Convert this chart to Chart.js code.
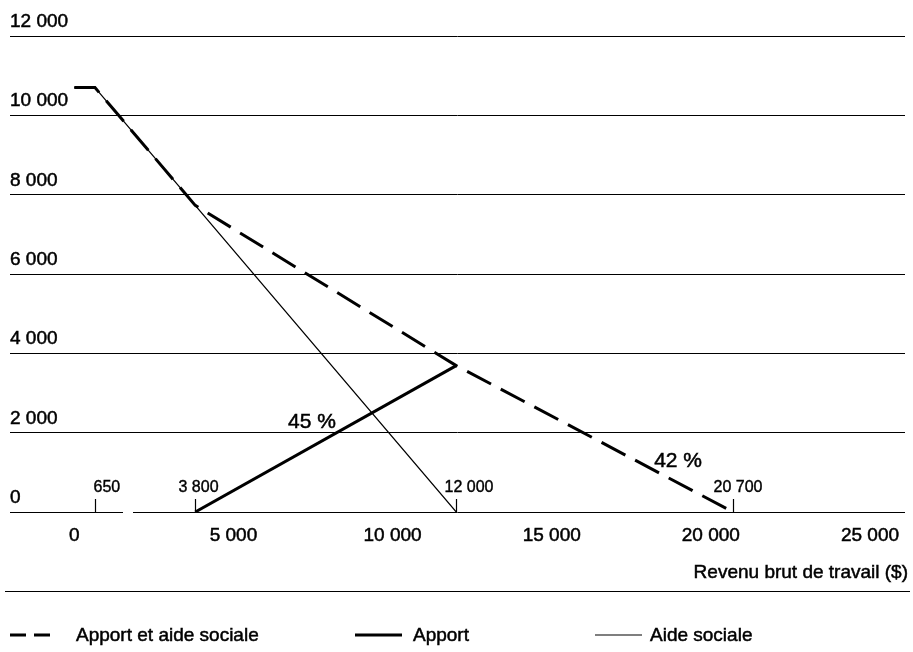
<!DOCTYPE html>
<html>
<head>
<meta charset="utf-8">
<script src="https://cdn.jsdelivr.net/npm/chart.js@4/dist/chart.umd.min.js"></script>
<style>
  html, body { margin: 0; padding: 0; background: #fff; }
  #wrap { width: 913px; height: 652px; }
</style>
</head>
<body>
<div id="wrap"><canvas id="chart" width="913" height="652"></canvas></div>
<script>
// revenu brut de travail ($) aux points de cassure
const revenuTotal = [0, 650, 3800, 12000, 20700];
const apportEtAide = [10700, 10700, 7730, 3690, 0];

const revenuApport = [3800, 12000];
const apport = [0, 3690];

const revenuAide = [0, 650, 12000];
const aideSociale = [10700, 10700, 0];

const xTicks = [0, 5000, 10000, 15000, 20000, 25000];
const yTicks = [0, 2000, 4000, 6000, 8000, 10000, 12000];

// seuils marqués sur l'axe
const seuils = [650, 3800, 12000, 20700];
const seuilLabels = ['650', '3 800', '12 000', '20 700'];

const taux = ['45 %', '42 %'];

const FONT = "'Liberation Sans', Arial, sans-serif";

function fmt(v) {
  return String(v).replace(/\B(?=(\d{3})+(?!\d))/g, ' ');
}

function pts(xs, ys) {
  return xs.map((x, i) => ({ x, y: ys[i] }));
}

// texte un peu plus gras, comme l'original imprimé
function txt(ctx, s, x, y) {
  ctx.fillText(s, x, y);
  ctx.strokeText(s, x, y);
}

const decor = {
  id: 'decor',
  afterDraw(chart) {
    const ctx = chart.ctx;
    const xs = chart.scales.x;
    const ys = chart.scales.y;
    const y0 = ys.getPixelForValue(0);
    ctx.save();

    // petite coupure dans l'axe
    ctx.fillStyle = '#fff';
    ctx.fillRect(123, y0 - 3, 10, 6);

    ctx.fillStyle = '#000';
    ctx.strokeStyle = '#000';
    ctx.lineWidth = 0.5;

    // étiquettes de l'axe vertical, au-dessus des lignes
    ctx.font = '19px ' + FONT;
    ctx.textAlign = 'left';
    ctx.textBaseline = 'alphabetic';
    yTicks.forEach(v => {
      txt(ctx, fmt(v), 10, ys.getPixelForValue(v) - 9);
    });

    // repères des seuils
    const offs = [-2, -17, -12, -20];
    ctx.font = '16px ' + FONT;
    seuils.forEach((v, i) => {
      const px = Math.round(xs.getPixelForValue(v)) + 0.5;
      ctx.lineWidth = 1.2;
      ctx.beginPath();
      ctx.moveTo(px, y0 - 13);
      ctx.lineTo(px, y0);
      ctx.stroke();
      ctx.lineWidth = 0.4;
      txt(ctx, seuilLabels[i], px + offs[i], y0 - 20);
    });

    // taux
    ctx.lineWidth = 0.5;
    ctx.font = '21px ' + FONT;
    ctx.textAlign = 'center';
    txt(ctx, taux[0], xs.getPixelForValue(7470), ys.getPixelForValue(2120));
    txt(ctx, taux[1], xs.getPixelForValue(18970), ys.getPixelForValue(1130));

    // titre de l'axe
    ctx.font = '19px ' + FONT;
    ctx.textAlign = 'right';
    txt(ctx, 'Revenu brut de travail ($)', 908, 578);

    ctx.lineWidth = 1.2;
    ctx.beginPath();
    ctx.moveTo(5, 591.5);
    ctx.lineTo(910, 591.5);
    ctx.stroke();

    // légende
    const ds = chart.data.datasets;
    const items = [
      { d: ds[0], x1: 10, x2: 54, tx: 76 },
      { d: ds[1], x1: 355, x2: 402, tx: 413 },
      { d: ds[2], x1: 595, x2: 642, tx: 650 }
    ];
    ctx.textAlign = 'left';
    items.forEach(it => {
      ctx.lineWidth = it.d.borderWidth;
      ctx.setLineDash(it.d.borderDash.length ? [16, 8] : []);
      ctx.beginPath();
      ctx.moveTo(it.x1, 635);
      ctx.lineTo(it.x2, 635);
      ctx.stroke();
      ctx.setLineDash([]);
      ctx.lineWidth = 0.5;
      txt(ctx, it.d.label, it.tx, 641);
    });
    ctx.restore();
  }
};

new Chart(document.getElementById('chart'), {
  type: 'scatter',
  data: {
    datasets: [
      {
        label: 'Apport et aide sociale',
        data: pts(revenuTotal, apportEtAide),
        showLine: true,
        borderColor: '#000',
        borderWidth: 3,
        borderDash: [27, 11],
        pointRadius: 0
      },
      {
        label: 'Apport',
        data: pts(revenuApport, apport),
        showLine: true,
        borderColor: '#000',
        borderWidth: 3,
        borderDash: [],
        pointRadius: 0
      },
      {
        label: 'Aide sociale',
        data: pts(revenuAide, aideSociale),
        showLine: true,
        borderColor: '#000',
        borderWidth: 1.2,
        borderDash: [],
        pointRadius: 0
      }
    ]
  },
  options: {
    animation: false,
    responsive: false,
    layout: { padding: { top: 36, left: 10, right: 8, bottom: 100 } },
    plugins: {
      legend: { display: false },
      tooltip: { enabled: false }
    },
    scales: {
      x: {
        type: 'linear',
        min: -2020,
        max: 26100,
        afterBuildTicks: s => { s.ticks = xTicks.map(v => ({ value: v })); },
        afterFit: s => { s.height = 40; },
        grid: { display: false, drawTicks: false },
        border: { display: false },
        ticks: {
          padding: 12,
          color: '#000',
          textStrokeColor: '#000',
          textStrokeWidth: 0.5,
          font: { family: FONT, size: 19 },
          callback: v => fmt(v)
        }
      },
      y: {
        min: 0,
        max: 12000,
        afterBuildTicks: s => { s.ticks = yTicks.map(v => ({ value: v })); },
        afterFit: s => { s.width = 0; },
        grid: { color: '#000', lineWidth: 1, drawTicks: false },
        border: { display: false },
        ticks: { display: false }
      }
    }
  },
  plugins: [decor]
});
</script>
</body>
</html>
